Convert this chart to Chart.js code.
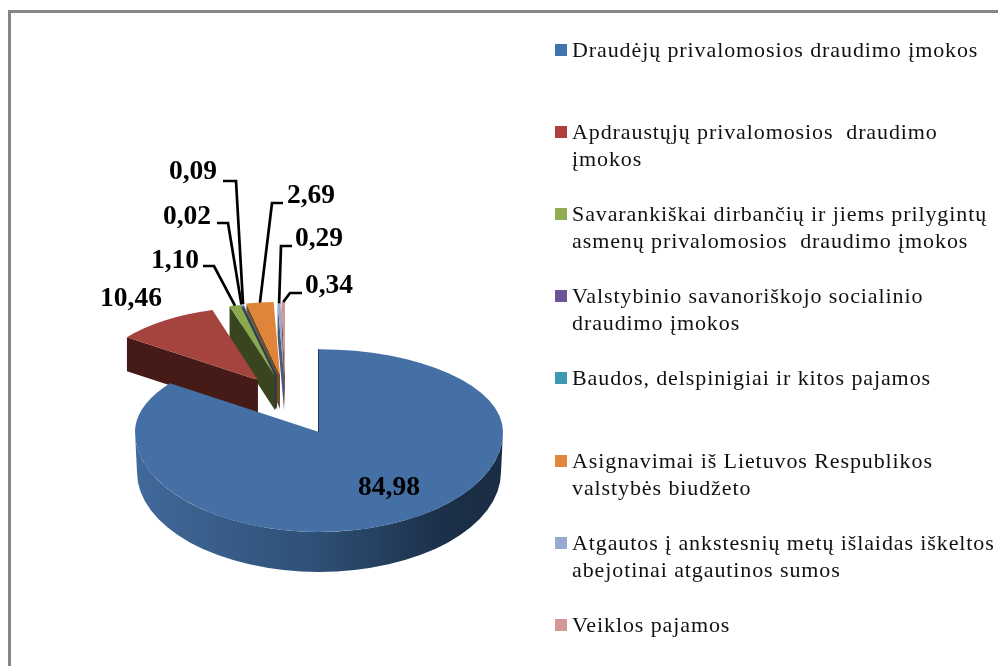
<!DOCTYPE html>
<html>
<head>
<meta charset="utf-8">
<script src="https://cdn.jsdelivr.net/npm/chart.js@4"></script>
<style>
  html, body { margin: 0; background: #fff; }
  #wrap { position: relative; width: 998px; height: 666px; overflow: hidden; filter: blur(0.45px); }
  #frame { position: absolute; left: 8px; top: 10px; right: -10px; bottom: -10px; border: solid #868686; border-width: 3px 0 0 3px; }
  canvas { position: absolute; left: 0; top: 0; }
  .legend-item { position: absolute; left: 555px; font: 22px/27px "Liberation Serif", serif; letter-spacing: 0.9px; color: #111; white-space: pre; }
  .legend-item i { position: absolute; left: 0; top: 7px; width: 12px; height: 12px; }
  .legend-item span { position: absolute; left: 17px; top: -1px; }
</style>
</head>
<body>
<div id="wrap">
  <div id="frame"></div>
  <canvas id="pie" width="998" height="666"></canvas>
  <div id="legend"></div>
</div>
<script>
const categories = [
  'Draudėjų privalomosios draudimo įmokos',
  'Apdraustųjų privalomosios  draudimo\nįmokos',
  'Savarankiškai dirbančių ir jiems prilygintų\nasmenų privalomosios  draudimo įmokos',
  'Valstybinio savanoriškojo socialinio\ndraudimo įmokos',
  'Baudos, delspinigiai ir kitos pajamos',
  'Asignavimai iš Lietuvos Respublikos\nvalstybės biudžeto',
  'Atgautos į ankstesnių metų išlaidas iškeltos\nabejotinai atgautinos sumos',
  'Veiklos pajamos'
];
const values = [84.98, 10.46, 1.10, 0.02, 0.09, 2.69, 0.29, 0.34];

const sliceColors = ['#4470a5', '#a5443f', '#8aa84c', '#6f5491', '#3c8ca6', '#de8539', '#93a9d0', '#d09593'];
const legendColors = ['#3f74ae', '#b0403d', '#8fac50', '#6f5396', '#3d97b0', '#e0873c', '#95a9d2', '#d29896'];
const faceColors = ['#2e4f75', '#451a17', '#38451f', '#3a2b4d', '#1e4a58', '#7a4a20', '#4d5a75', '#6e4d4c'];

// exploded slices: shift in pie radius units, before the tilt
const explodeX = [0, -0.332, -0.239, -0.234, -0.228, -0.212, -0.190, -0.185];
const explodeY = [0, -0.628, -0.674, -0.680, -0.685, -0.690, -0.674, -0.690];
const explodedScale = 0.88;

const labelPos = [[389, 488], [131, 299], [175, 261], [187, 217], [193, 172], [311, 196], [319, 239], [329, 286]];
const leaderStart = [null, null, [203, 266], [217, 223], [223, 181], [283, 203], [292, 246], [302, 293]];
const leaderElbow = [null, null, [214, 266], [228, 223], [236, 181], [272, 203], [281, 246], [290, 293]];

const tiltBack = 0.45;
const tiltFront = 0.543;
const depth = 40;
const faceDepth = 34;

function tilted(y, cy) {
  return cy + (y - cy) * (y < cy ? tiltBack : tiltFront);
}

const pie3d = {
  id: 'pie3d',
  afterDatasetsUpdate(chart) {
    const arcs = chart.getDatasetMeta(0).data;
    const R = arcs[0].outerRadius;
    arcs.forEach((arc, i) => {
      if (i === 0) return;
      arc.x += explodeX[i] * R;
      arc.y += explodeY[i] * R;
      arc.outerRadius = R * explodedScale;
    });
  },
  beforeDatasetsDraw(chart) {
    const { ctx, chartArea, width } = chart;
    const arcs = chart.getDatasetMeta(0).data;
    const cx = (chartArea.left + chartArea.right) / 2;
    const cy = (chartArea.top + chartArea.bottom) / 2;
    const R = arcs[0].outerRadius;

    // cut faces of the exploded slices, back to front
    for (let i = arcs.length - 1; i > 0; i--) {
      const a = arcs[i];
      const ox = a.x + Math.cos(a.startAngle) * a.outerRadius;
      const oy = tilted(a.y + Math.sin(a.startAngle) * a.outerRadius, cy);
      const ay = tilted(a.y, cy);
      ctx.fillStyle = faceColors[i];
      ctx.beginPath();
      ctx.moveTo(ox, oy);
      ctx.lineTo(a.x, ay);
      ctx.lineTo(a.x, ay + faceDepth);
      ctx.lineTo(ox, oy + faceDepth);
      ctx.closePath();
      ctx.fill();
    }

    // front rim of the big slice
    const grad = ctx.createLinearGradient(cx - R, 0, cx + R, 0);
    grad.addColorStop(0, '#41699a');
    grad.addColorStop(0.5, '#2e4f75');
    grad.addColorStop(0.85, '#1b2f48');
    grad.addColorStop(1, '#1a2d44');
    ctx.fillStyle = grad;
    ctx.beginPath();
    ctx.ellipse(cx, cy, R, R * tiltFront, 0, 0, Math.PI);
    ctx.lineTo(cx - R + 2, cy + depth);
    ctx.ellipse(cx, cy + depth, R - 2, R * tiltFront, 0, Math.PI, 0, true);
    ctx.closePath();
    ctx.fill();

    // top faces: back half and front half have a different tilt
    const band = (top, height, tilt) => {
      ctx.save();
      ctx.beginPath();
      ctx.rect(0, top, width, height);
      ctx.clip();
      ctx.translate(0, cy);
      ctx.scale(1, tilt);
      ctx.translate(0, -cy);
      arcs.forEach(a => a.draw(ctx));
      ctx.restore();
    };
    band(0, cy, tiltBack);
    band(cy, chart.height - cy, tiltFront);

    // thin dark edge along the notch of the big slice
    ctx.strokeStyle = '#1f3a5a';
    ctx.lineWidth = 1;
    ctx.beginPath();
    ctx.moveTo(cx - 0.5, cy);
    ctx.lineTo(cx - 0.5, tilted(cy - R, cy));
    ctx.stroke();
    return false;
  },
  afterDraw(chart) {
    const { ctx, chartArea } = chart;
    const arcs = chart.getDatasetMeta(0).data;
    const cy = (chartArea.top + chartArea.bottom) / 2;

    ctx.save();
    ctx.strokeStyle = '#000';
    ctx.lineWidth = 2.7;
    arcs.forEach((a, i) => {
      if (!leaderStart[i]) return;
      const mid = (a.startAngle + a.endAngle) / 2;
      ctx.beginPath();
      ctx.moveTo(leaderStart[i][0], leaderStart[i][1]);
      ctx.lineTo(leaderElbow[i][0], leaderElbow[i][1]);
      ctx.lineTo(a.x + Math.cos(mid) * a.outerRadius, tilted(a.y + Math.sin(mid) * a.outerRadius, cy));
      ctx.stroke();
    });
    ctx.fillStyle = '#000';
    ctx.font = 'bold 27.5px "Liberation Serif", serif';
    ctx.textAlign = 'center';
    ctx.textBaseline = 'middle';
    values.forEach((v, i) => {
      ctx.fillText(v.toFixed(2).replace('.', ','), labelPos[i][0], labelPos[i][1]);
    });
    ctx.restore();
  }
};

new Chart(document.getElementById('pie'), {
  type: 'pie',
  data: {
    labels: categories,
    datasets: [{
      data: values,
      backgroundColor: sliceColors,
      borderWidth: 0,
      hoverOffset: 0,
      clip: false
    }]
  },
  options: {
    responsive: false,
    animation: false,
    events: [],
    layout: { padding: { left: 135, right: 495, top: 248, bottom: 50 } },
    plugins: { legend: { display: false }, tooltip: { enabled: false } }
  },
  plugins: [pie3d]
});

// legend on the right
const legend = document.getElementById('legend');
categories.forEach((name, i) => {
  const item = document.createElement('div');
  item.className = 'legend-item';
  item.style.top = (37 + i * 82.1) + 'px';
  const box = document.createElement('i');
  box.style.background = legendColors[i];
  const text = document.createElement('span');
  text.textContent = name;
  item.appendChild(box);
  item.appendChild(text);
  legend.appendChild(item);
});
</script>
</body>
</html>
